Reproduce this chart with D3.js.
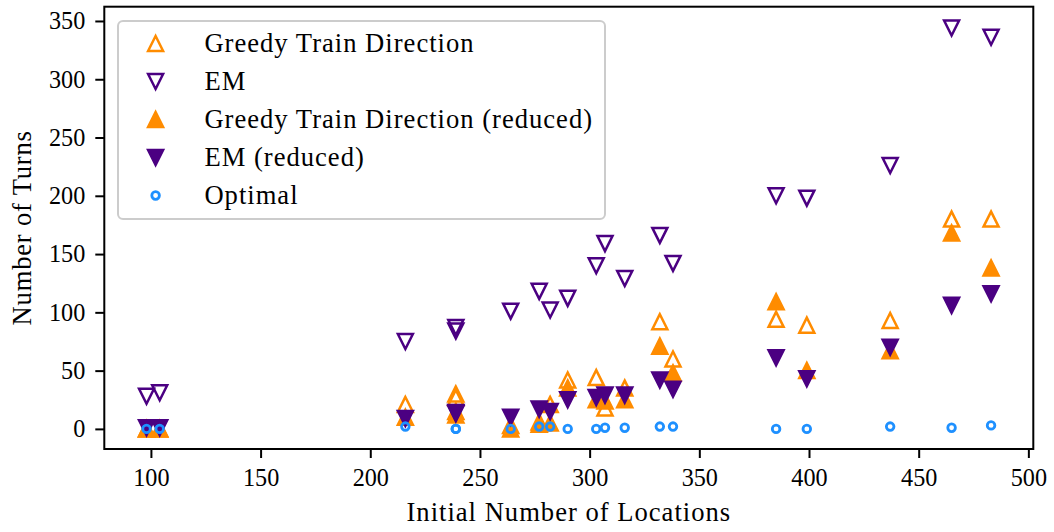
<!DOCTYPE html>
<html>
<head>
<meta charset="utf-8">
<script src="https://cdn.jsdelivr.net/npm/d3@7"></script>
<style>
  html, body { margin: 0; padding: 0; background: #ffffff; }
  svg { display: block; }
</style>
</head>
<body>
<div id="chart"></div>
<script>
// ---------------- data ----------------
const locations      = [98, 104, 216, 239, 239, 264, 277, 282, 290, 303, 307, 316, 332, 338, 385, 399, 437, 465, 483];
const greedyTurns    = [0, 0, 21, 30, 27, 3, 6, 21, 42, 44, 18, 35, 92, 60, 94, 89, 93, 180, 180];
const emTurns        = [28, 31, 75, 87, 84, 101, 118, 102, 112, 140, 159, 129, 166, 142, 200, 198, 226, 344, 336];
const greedyRedTurns = [0, 0, 10, 15, 12, 0, 4, 5, 35, 25, 24, 25, 71, 48, 109, 50, 67, 168, 138];
const emRedTurns     = [1, 1, 9, 13, 14, 10, 17, 15, 25, 27, 29, 29, 42, 34, 61, 43, 70, 106, 116];
const optimalTurns   = [0, 0, 2, 0, 0, 0, 2, 2, 0, 0, 1, 1, 2, 2, 0, 0, 2, 1, 3];

const xTicks = [100, 150, 200, 250, 300, 350, 400, 450, 500];
const yTicks = [0, 50, 100, 150, 200, 250, 300, 350];

const seriesNames = ["Greedy Train Direction", "EM", "Greedy Train Direction (reduced)", "EM (reduced)", "Optimal"];

// ---------------- layout ----------------
const W = 1054, H = 532;
const plot = { left: 104.3, right: 1033.3, top: 6.7, bottom: 449 };
const ORANGE = "#FF8C00", PURPLE = "#4B0082", BLUE = "#1E90FF";
const FONT = "'Liberation Serif', 'Times New Roman', serif";

const x = d3.scaleLinear().domain([78.75, 502.25]).range([plot.left, plot.right]);
const y = d3.scaleLinear().domain([-17.25, 362.25]).range([plot.bottom, plot.top]);

const svg = d3.select("#chart").append("svg")
  .attr("width", W).attr("height", H)
  .attr("viewBox", `0 0 ${W} ${H}`);

// marker shapes
const TRI = 15;     // triangle size (px)
function triPath(up) {
  const h = TRI / 2;
  const p = d3.path();
  if (up) { p.moveTo(0, -h); p.lineTo(-h, h); p.lineTo(h, h); }
  else    { p.moveTo(0, h); p.lineTo(-h, -h); p.lineTo(h, -h); }
  p.closePath();
  return p.toString();
}

const series = [
  { name: seriesNames[0], values: greedyTurns,    kind: "tri", up: true,  fill: "none", stroke: ORANGE },
  { name: seriesNames[1], values: emTurns,        kind: "tri", up: false, fill: "none", stroke: PURPLE },
  { name: seriesNames[2], values: greedyRedTurns, kind: "tri", up: true,  fill: ORANGE, stroke: ORANGE },
  { name: seriesNames[3], values: emRedTurns,     kind: "tri", up: false, fill: PURPLE, stroke: PURPLE },
  { name: seriesNames[4], values: optimalTurns,   kind: "circ", fill: "none", stroke: BLUE }
];

function drawMarker(g, s) {
  if (s.kind === "tri") {
    g.append("path").attr("d", triPath(s.up))
      .attr("fill", s.fill).attr("stroke", s.stroke)
      .attr("stroke-width", 2.5).attr("stroke-linejoin", "miter");
  } else {
    g.append("circle").attr("r", 3.8)
      .attr("fill", "none").attr("stroke", s.stroke).attr("stroke-width", 2.8);
  }
}

// ---------------- points ----------------
const pts = svg.append("g");
series.forEach(s => {
  const g = pts.append("g");
  locations.forEach((loc, i) => {
    const m = g.append("g").attr("transform", `translate(${x(loc)},${y(s.values[i])})`);
    drawMarker(m, s);
  });
});

// ---------------- axes ----------------
const xAxis = d3.axisBottom(x).tickValues(xTicks).tickFormat(d3.format("d"))
  .tickSize(9).tickSizeOuter(0).tickPadding(11);
const yAxis = d3.axisLeft(y).tickValues(yTicks).tickFormat(d3.format("d"))
  .tickSize(9).tickSizeOuter(0).tickPadding(10);

const gx = svg.append("g").attr("transform", `translate(0,${plot.bottom})`).call(xAxis);
const gy = svg.append("g").attr("transform", `translate(${plot.left},0)`).call(yAxis);
[gx, gy].forEach(g => {
  g.select(".domain").remove();
  g.selectAll(".tick line").attr("stroke", "#000").attr("stroke-width", 2);
  g.selectAll(".tick text").attr("fill", "#000")
    .style("font-family", FONT).style("font-size", "24.2px");
});

// frame
svg.append("rect")
  .attr("x", plot.left).attr("y", plot.top)
  .attr("width", plot.right - plot.left).attr("height", plot.bottom - plot.top)
  .attr("fill", "none").attr("stroke", "#000").attr("stroke-width", 2);

// axis labels
svg.append("text")
  .attr("x", (plot.left + plot.right) / 2).attr("y", 521)
  .attr("text-anchor", "middle")
  .style("font-family", FONT).style("font-size", "26.6px")
  .style("letter-spacing", "1px")
  .text("Initial Number of Locations");

svg.append("text")
  .attr("transform", `translate(30.5,${(plot.top + plot.bottom) / 2}) rotate(-90)`)
  .attr("text-anchor", "middle")
  .style("font-family", FONT).style("font-size", "26.6px")
  .style("letter-spacing", "0.8px")
  .text("Number of Turns");

// ---------------- legend ----------------
const lg = svg.append("g");
lg.append("rect")
  .attr("x", 118).attr("y", 21).attr("width", 487).attr("height", 198)
  .attr("rx", 5).attr("ry", 5)
  .attr("fill", "#fff").attr("fill-opacity", 0.8)
  .attr("stroke", "#cccccc").attr("stroke-width", 2);

series.forEach((s, i) => {
  const cy = 43.5 + i * 38;
  const m = lg.append("g").attr("transform", `translate(155.6,${cy})`);
  drawMarker(m, s);
  lg.append("text")
    .attr("x", 204.4).attr("y", cy + 8)
    .style("font-family", FONT).style("font-size", "26.6px")
    .style("letter-spacing", "1px")
    .text(s.name);
});
</script>
</body>
</html>
